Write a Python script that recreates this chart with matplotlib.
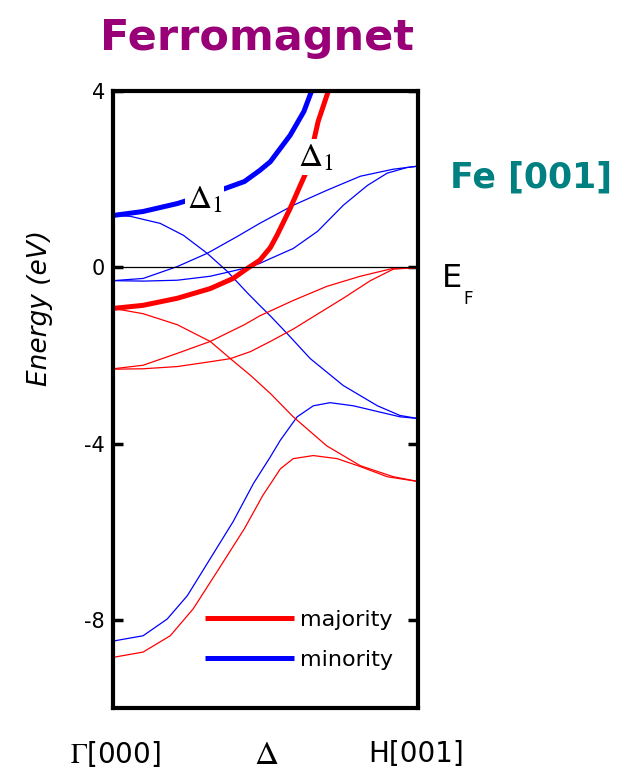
import matplotlib
matplotlib.use("Agg")
import matplotlib.pyplot as plt
import numpy as np

plt.rcParams['font.family'] = ['DejaVu Sans']
plt.rcParams['mathtext.fontset'] = 'stix'

# k runs from Gamma (0) to H (1); energies in eV
# thick Delta_1 bands
k_maj_d1 = [0, 0.098, 0.21, 0.318, 0.393, 0.44, 0.48, 0.515, 0.537, 0.58, 0.613, 0.635, 0.672, 0.705, 0.72]
e_maj_d1 = [-0.93, -0.86, -0.7, -0.48, -0.25, -0.02, 0.16, 0.45, 0.73, 1.34, 1.86, 2.2, 3.32, 4.0, 4.3]

k_min_d1 = [0, 0.098, 0.21, 0.35, 0.43, 0.48, 0.515, 0.58, 0.625, 0.65, 0.665]
e_min_d1 = [1.18, 1.27, 1.45, 1.75, 1.95, 2.2, 2.4, 3.0, 3.54, 4.0, 4.3]

# minority (thin)
k_min_a = [0, 0.056, 0.154, 0.23, 0.308, 0.374, 0.44, 0.48, 0.515, 0.57, 0.646, 0.754, 0.866, 0.94, 1.0]
e_min_a = [1.18, 1.16, 1.0, 0.73, 0.32, -0.09, -0.58, -0.86, -1.1, -1.5, -2.07, -2.68, -3.14, -3.36, -3.43]

k_min_b = [0, 0.098, 0.21, 0.308, 0.406, 0.48, 0.515, 0.59, 0.70, 0.81, 0.918, 1.0]
e_min_b = [-0.3, -0.25, 0.02, 0.32, 0.7, 1.0, 1.13, 1.41, 1.75, 2.07, 2.23, 2.3]

k_min_c = [0, 0.1, 0.21, 0.318, 0.43, 0.48, 0.515, 0.59, 0.67, 0.754, 0.833, 0.898, 0.964, 1.0]
e_min_c = [-0.3, -0.31, -0.29, -0.2, -0.02, 0.09, 0.2, 0.43, 0.82, 1.41, 1.86, 2.14, 2.27, 2.3]

k_min_h = [0, 0.098, 0.177, 0.243, 0.318, 0.393, 0.46, 0.515, 0.548, 0.603, 0.656, 0.711, 0.787, 0.866, 0.94, 1.0]
e_min_h = [-8.48, -8.36, -7.98, -7.45, -6.61, -5.77, -4.9, -4.3, -3.92, -3.39, -3.14, -3.07, -3.14, -3.27, -3.39, -3.43]

# majority (thin)
k_maj_a = [0, 0.098, 0.21, 0.318, 0.384, 0.45, 0.515, 0.59, 0.70, 0.81, 0.918, 1.0]
e_maj_a = [-0.93, -1.05, -1.3, -1.68, -2.07, -2.45, -2.86, -3.39, -4.05, -4.5, -4.75, -4.86]

k_maj_h = [0, 0.098, 0.187, 0.262, 0.34, 0.43, 0.49, 0.548, 0.59, 0.656, 0.734, 0.81, 0.898, 1.0]
e_maj_h = [-8.85, -8.73, -8.36, -7.75, -6.91, -5.93, -5.18, -4.57, -4.34, -4.27, -4.34, -4.52, -4.75, -4.86]

k_maj_b = [0, 0.098, 0.21, 0.318, 0.43, 0.48, 0.59, 0.70, 0.81, 0.918, 1.0]
e_maj_b = [-2.3, -2.22, -1.95, -1.68, -1.3, -1.1, -0.75, -0.43, -0.2, -0.02, 0.0]

k_maj_c = [0, 0.098, 0.21, 0.318, 0.384, 0.45, 0.515, 0.59, 0.646, 0.754, 0.843, 0.918, 1.0]
e_maj_c = [-2.31, -2.3, -2.25, -2.14, -2.07, -1.91, -1.68, -1.4, -1.16, -0.7, -0.3, -0.04, 0.0]

yticks = [4, 0, -4, -8]

fig = plt.figure(figsize=(6.29, 7.71), dpi=100)
ax = fig.add_axes([0.180, 0.0817, 0.485, 0.800])

red, blue = '#ff0000', '#0000ff'
for k, e in [(k_min_a, e_min_a), (k_min_b, e_min_b), (k_min_c, e_min_c), (k_min_h, e_min_h)]:
    ax.plot(k, e, color=blue, lw=0.9)
for k, e in [(k_maj_a, e_maj_a), (k_maj_b, e_maj_b), (k_maj_c, e_maj_c), (k_maj_h, e_maj_h)]:
    ax.plot(k, e, color=red, lw=0.9)
l_maj, = ax.plot(k_maj_d1, e_maj_d1, color=red, lw=3.6, solid_capstyle='butt')
l_min, = ax.plot(k_min_d1, e_min_d1, color=blue, lw=3.6, solid_capstyle='butt')

ax.axhline(0, color='black', lw=0.9)

# Delta_1 labels (white box breaks the thick curve)
box = dict(facecolor='white', edgecolor='none', pad=1)
ax.text(0.30, 1.55, r'$\Delta_1$', fontsize=24, ha='center', va='center', bbox=box)
ax.text(0.665, 2.5, r'$\Delta_1$', fontsize=24, ha='center', va='center', bbox=box)

ax.set_xlim(0, 1)
ax.set_ylim(-10, 4)
ax.set_xticks([])
ax.set_yticks(yticks)
ax.set_yticklabels([str(t) for t in yticks])
ax.tick_params(axis='y', direction='in', length=7, width=2.5, labelsize=15,
               left=True, right=True, pad=6)
for sp in ax.spines.values():
    sp.set_linewidth(3)

ax.legend([l_maj, l_min], ['majority', 'minority'], frameon=False, fontsize=16,
          loc='center left', bbox_to_anchor=(0.30, 0.11), borderpad=0, borderaxespad=0,
          handlelength=4.0, handletextpad=0.3, labelspacing=0.9)

fig.text(40 / 629, 1 - 308 / 771, 'Energy (eV)', rotation=90, fontsize=19, style='italic',
         ha='center', va='center')

# k-point labels under the panel
fig.text(115 / 629, 1 - 754 / 771, r'$\Gamma$[000]', fontsize=20, ha='center', va='center')
fig.text(266 / 629, 1 - 754 / 771, r'$\Delta$', fontsize=24, ha='center', va='center')
fig.text(416 / 629, 1 - 754 / 771, 'H[001]', fontsize=20, ha='center', va='center')

fig.text(257 / 629, 1 - 50 / 771, 'Ferromagnet', fontsize=31, fontweight='bold',
         color='#990077', ha='center', va='baseline')
fig.text(531 / 629, 1 - 178 / 771, 'Fe [001]', fontsize=25, fontweight='bold',
         color='#008080', ha='center', va='center')
fig.text(442 / 629, 1 - 287 / 771, 'E', fontsize=23, ha='left', va='baseline')
fig.text(463 / 629, 1 - 304 / 771, 'F', fontsize=12, ha='left', va='baseline')

fig.savefig('out.png', dpi=100)
